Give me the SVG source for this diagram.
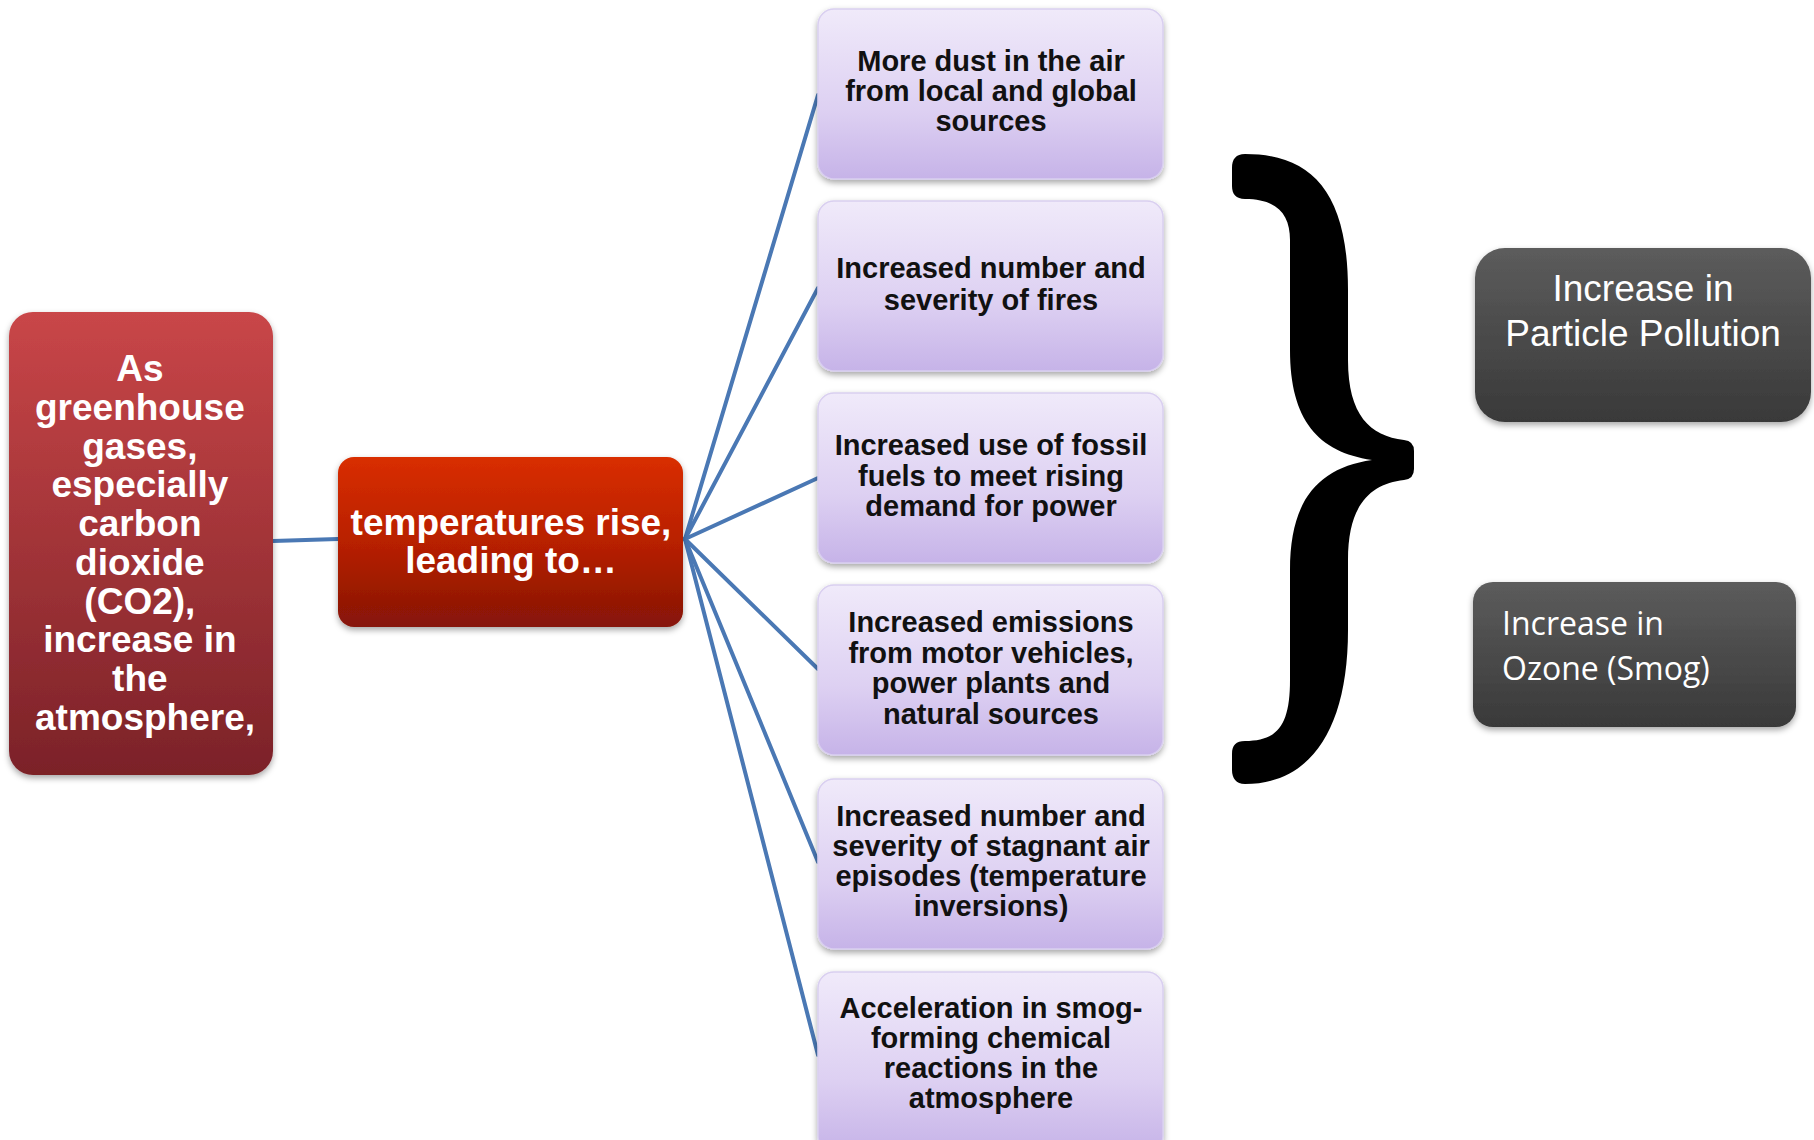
<svg xmlns="http://www.w3.org/2000/svg" width="1814" height="1140" viewBox="0 0 1814 1140">
<defs>
<linearGradient id="gLeft" x1="0" y1="0" x2="0" y2="1"><stop offset="0" stop-color="#c94648"/><stop offset="1" stop-color="#7b2228"/></linearGradient>
<linearGradient id="gMid" x1="0" y1="0" x2="0" y2="1"><stop offset="0" stop-color="#d92e00"/><stop offset="0.5" stop-color="#b82000"/><stop offset="1" stop-color="#861508"/></linearGradient>
<linearGradient id="gPur" x1="0" y1="0" x2="0" y2="1"><stop offset="0" stop-color="#f0eafa"/><stop offset="0.6" stop-color="#ddd0f2"/><stop offset="1" stop-color="#c6b3e8"/></linearGradient>
<linearGradient id="gDark" x1="0" y1="0" x2="0" y2="1"><stop offset="0" stop-color="#5c5c5c"/><stop offset="1" stop-color="#393939"/></linearGradient>
<filter id="sh" x="-10%" y="-10%" width="120%" height="130%"><feDropShadow dx="0" dy="3" stdDeviation="3" flood-color="#000" flood-opacity="0.35"/></filter>
</defs>
<style>
.wb{font-family:"Liberation Sans",Arial,sans-serif;font-weight:bold;fill:#fff;text-anchor:middle}
.pb{font-family:"Liberation Sans",Arial,sans-serif;font-weight:bold;fill:#111;text-anchor:middle;font-size:29px}
.pur{fill:url(#gPur);stroke:#d9cff0;stroke-width:1.5;filter:url(#sh)}
.dark{fill:url(#gDark);filter:url(#sh)}
.conn line{stroke:#4a78b4;stroke-width:4;stroke-linecap:round}
</style>
<rect width="1814" height="1140" fill="#fff"/>
<g class="conn" id="connectors">
<line x1="273" y1="541" x2="338" y2="539"/>
<line x1="685" y1="539" x2="818" y2="95"/>
<line x1="685" y1="539" x2="818" y2="288"/>
<line x1="685" y1="539" x2="818" y2="478"/>
<line x1="685" y1="539" x2="818" y2="669"/>
<line x1="685" y1="539" x2="818" y2="862"/>
<line x1="685" y1="539" x2="818" y2="1055"/>
</g>
<g id="cause">
<rect x="9" y="312" width="264" height="463" rx="24" fill="url(#gLeft)" filter="url(#sh)"/>
<text class="wb" font-size="37">
<tspan x="145" y="381">As</tspan>
<tspan x="145" y="420">greenhouse</tspan>
<tspan x="145" y="459">gases,</tspan>
<tspan x="145" y="497">especially</tspan>
<tspan x="145" y="536">carbon</tspan>
<tspan x="145" y="575">dioxide</tspan>
<tspan x="145" y="614">(CO2),</tspan>
<tspan x="145" y="652">increase in</tspan>
<tspan x="145" y="691">the</tspan>
<tspan x="145" y="730">atmosphere,</tspan>
</text>
</g>
<g id="temps">
<rect x="338" y="457" width="345" height="170" rx="16" fill="url(#gMid)" filter="url(#sh)"/>
<text class="wb" font-size="37"><tspan x="511" y="535">temperatures rise,</tspan><tspan x="511" y="573">leading to…</tspan></text>
</g>
<g id="dust">
<rect class="pur" x="818" y="9" width="345" height="170" rx="16"/>
<text class="pb"><tspan x="991" y="71">More dust in the air</tspan><tspan x="991" y="101">from local and global</tspan><tspan x="991" y="131">sources</tspan></text>
</g>
<g id="fires">
<rect class="pur" x="818" y="201" width="345" height="170" rx="16"/>
<text class="pb"><tspan x="991" y="278">Increased number and</tspan><tspan x="991" y="310">severity of fires</tspan></text>
</g>
<g id="fossil">
<rect class="pur" x="818" y="393" width="345" height="170" rx="16"/>
<text class="pb"><tspan x="991" y="455">Increased use of fossil</tspan><tspan x="991" y="486">fuels to meet rising</tspan><tspan x="991" y="516">demand for power</tspan></text>
</g>
<g id="emissions">
<rect class="pur" x="818" y="585" width="345" height="170" rx="16"/>
<text class="pb"><tspan x="991" y="632">Increased emissions</tspan><tspan x="991" y="663">from motor  vehicles,</tspan><tspan x="991" y="693">power plants and</tspan><tspan x="991" y="724">natural sources</tspan></text>
</g>
<g id="stagnant">
<rect class="pur" x="818" y="779" width="345" height="170" rx="16"/>
<text class="pb"><tspan x="991" y="826">Increased number and</tspan><tspan x="991" y="856">severity of stagnant air</tspan><tspan x="991" y="886">episodes (temperature</tspan><tspan x="991" y="916">inversions)</tspan></text>
</g>
<g id="smog">
<rect class="pur" x="818" y="972" width="345" height="180" rx="16"/>
<text class="pb"><tspan x="991" y="1018">Acceleration in smog-</tspan><tspan x="991" y="1048">forming chemical</tspan><tspan x="991" y="1078">reactions in the</tspan><tspan x="991" y="1108">atmosphere</tspan></text>
</g>
<g id="brace">
<path fill="#000" d="M 1245 154 C 1310 154 1348 190 1348 290 L 1348 360 C 1348 415 1370 436 1404 440 Q 1414 441 1414 451 L 1414 469 Q 1414 479 1404 480 C 1370 484 1348 505 1348 560 L 1348 630 C 1348 730 1310 784 1245 784 C 1236 784 1232 778 1232 770 L 1232 754 C 1232 745 1236 741 1245 741 C 1278 741 1290 725 1290 680 L 1290 570 C 1290 500 1318 468 1372 460 C 1318 452 1290 420 1290 350 L 1290 240 C 1290 215 1278 199 1245 199 C 1236 199 1232 194 1232 186 L 1232 168 C 1232 159 1236 154 1245 154 Z"/>
</g>
<g id="particle">
<rect class="dark" x="1475" y="248" width="336" height="174" rx="30"/>
<text font-family="'Liberation Sans',Arial,sans-serif" font-size="37" fill="#fff" text-anchor="middle"><tspan x="1643" y="301">Increase in</tspan><tspan x="1643" y="346">Particle Pollution</tspan></text>
</g>
<g id="ozone">
<rect class="dark" x="1473" y="582" width="323" height="145" rx="20"/>
<text font-family="'Open Sans',sans-serif" font-size="32" fill="#fff"><tspan x="1502" y="635">Increase in</tspan><tspan x="1502" y="680">Ozone (Smog)</tspan></text>
</g>
</svg>
